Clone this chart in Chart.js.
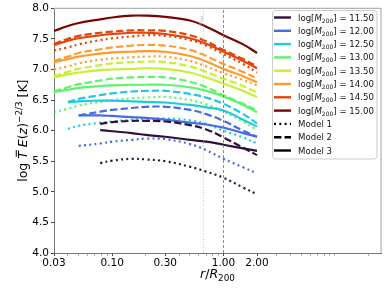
<!DOCTYPE html>
<html><head><meta charset="utf-8">
<script src="https://cdn.jsdelivr.net/npm/chart.js@4/dist/chart.umd.min.js"></script>
<style>html,body{margin:0;padding:0;background:#fff}canvas{display:block}</style>
</head><body>
<canvas id="c" width="389" height="292"></canvas>
<script>
// ---------- data ----------
const radii = [0.03, 0.04, 0.05, 0.078, 0.1, 0.15, 0.2, 0.3, 0.5, 0.7, 1.0, 1.5, 2.0];
const massLabels = ['11.50','12.00','12.50','13.00','13.50','14.00','14.50','15.00'];
const massColors = ['#30123b','#466be3','#1fc9dd','#5ef36b','#c7ef34','#fe9b2d','#e3440a','#7a0403'];
const modelNames = ['Model 1','Model 2','Model 3'];
const n = null;
// Model 1 (dotted)
const dotted_1150 = [n,n,n,5.47,5.51,5.54,5.53,5.50,5.41,5.33,5.23,5.07,4.96];
const dotted_1200 = [n,n,5.75,5.79,5.82,5.85,5.87,5.86,5.78,5.68,5.54,5.40,5.30];
const dotted_1250 = [n,6.03,6.08,6.13,6.15,6.18,6.19,6.20,6.17,6.11,6.00,5.89,5.79];
const dotted_1300 = [6.30,6.36,6.41,6.47,6.50,6.53,6.54,6.55,6.50,6.43,6.31,6.15,6.01];
const dotted_1400 = [7.00,7.05,7.10,7.16,7.18,7.20,7.21,7.21,7.14,7.05,6.94,6.83,6.74];
const dotted_1450 = [7.31,7.36,7.41,7.48,7.51,7.54,7.56,7.55,7.48,7.39,7.25,7.09,6.95];
// Model 2 (dashed)
const dashed_1150 = [n,n,n,6.11,6.14,6.16,6.16,6.15,6.09,6.02,5.89,5.72,5.60];
const dashed_1200 = [n,n,6.25,6.31,6.34,6.37,6.39,6.39,6.34,6.27,6.16,6.00,5.90];
const dashed_1250 = [n,6.47,6.52,6.58,6.61,6.64,6.65,6.65,6.60,6.54,6.44,6.27,6.12];
const dashed_1300 = [6.64,6.71,6.76,6.82,6.85,6.87,6.88,6.87,6.80,6.71,6.58,6.44,6.33];
const dashed_1350 = [6.89,6.96,7.01,7.07,7.10,7.12,7.13,7.12,7.05,6.96,6.85,6.73,6.62];
const dashed_1400 = [7.14,7.21,7.27,7.33,7.36,7.39,7.40,7.39,7.32,7.22,7.09,6.96,6.85];
const dashed_1450 = [7.42,7.50,7.55,7.60,7.62,7.64,7.64,7.63,7.56,7.46,7.32,7.17,7.05];
// Model 3 (solid)
const solid_1150 = [n,n,n,6.01,5.99,5.96,5.93,5.90,5.85,5.82,5.77,5.71,5.67];
const solid_1200 = [n,n,6.25,6.25,6.24,6.22,6.21,6.18,6.13,6.10,6.05,5.96,5.90];
const solid_1250 = [n,6.46,6.48,6.49,6.49,6.48,6.47,6.46,6.42,6.38,6.33,6.18,6.07];
const solid_1300 = [6.63,6.67,6.70,6.73,6.74,6.75,6.75,6.75,6.71,6.65,6.56,6.42,6.30];
const solid_1350 = [6.87,6.92,6.95,6.99,7.00,7.01,7.02,7.01,6.95,6.87,6.77,6.65,6.55];
const solid_1400 = [7.12,7.17,7.21,7.26,7.28,7.29,7.30,7.29,7.22,7.13,7.01,6.89,6.79];
const solid_1450 = [7.40,7.47,7.51,7.56,7.58,7.60,7.60,7.58,7.51,7.42,7.29,7.14,7.02];
const solid_1500 = [7.63,7.71,7.76,7.82,7.85,7.88,7.88,7.86,7.80,7.70,7.56,7.41,7.27];

const rR500 = 0.66;   // R500/R200 marker
const rR200 = 1.0;
const xMajorTicks = [0.03, 0.1, 0.3, 1, 2];
const xTickLabels = ['0.03','0.10','0.30','1.00','2.00'];
const xMinorTicks = [0.04,0.05,0.06,0.07,0.08,0.09,0.2,0.4,0.5,0.6,0.7,0.8,0.9,3,4,5,6,7,8,9,10,20];
const yTicks = [4.0,4.5,5.0,5.5,6.0,6.5,7.0,7.5,8.0];

// ---------- build ----------
const DOT = [2, 3.3], DASH = [7.4, 3.2];
function pts(arr){ const o=[]; arr.forEach((v,i)=>{ if(v!==null) o.push({x:radii[i], y:v}); }); return o; }
function ds(arr, mi, dash){
  return {data: pts(arr), borderColor: massColors[mi], borderWidth: 2.2, borderDash: dash,
    pointRadius: 0, fill:false, tension:0.4, borderCapStyle:'butt'};
}
const datasets = [
  {data:[{x:rR500,y:4},{x:rR500,y:8}], borderColor:'#bdbdbd', borderWidth:0.9, borderDash:[1,1.6], pointRadius:0},
  {data:[{x:rR200,y:4},{x:rR200,y:8}], borderColor:'#808080', borderWidth:0.9, borderDash:[3,2], pointRadius:0},
  ds(dotted_1150,0,DOT), ds(dashed_1150,0,DASH), ds(solid_1150,0,[]),
  ds(dotted_1200,1,DOT), ds(dashed_1200,1,DASH), ds(solid_1200,1,[]),
  ds(dotted_1250,2,DOT), ds(dashed_1250,2,DASH), ds(solid_1250,2,[]),
  ds(dotted_1300,3,DOT), ds(dashed_1300,3,DASH), ds(solid_1300,3,[]),
  ds(dashed_1350,4,DASH), ds(solid_1350,4,[]),
  ds(dotted_1400,5,DOT), ds(dashed_1400,5,DASH), ds(solid_1400,5,[]),
  ds(dotted_1450,6,DOT), ds(dashed_1450,6,DASH), ds(solid_1450,6,[]),
  ds(solid_1500,7,[])
];

const FONT = '"DejaVu Sans", "Liberation Sans", sans-serif';
function rich(ctx, parts, x, y, align){
  let w = 0;
  parts.forEach(p=>{ ctx.font = (p.it?'italic ':'') + p.s + 'px ' + FONT; p.w = ctx.measureText(p.t).width; w += p.w; });
  let cx = align==='center' ? x - w/2 : x;
  parts.forEach(p=>{
    ctx.font = (p.it?'italic ':'') + p.s + 'px ' + FONT;
    ctx.fillText(p.t, cx, y + (p.dy||0));
    if (p.bar){ ctx.save(); ctx.lineWidth=1; ctx.strokeStyle=ctx.fillStyle; ctx.beginPath();
      ctx.moveTo(cx+2, y - p.s*0.86); ctx.lineTo(cx+p.w+1, y - p.s*0.86); ctx.stroke(); ctx.restore(); }
    cx += p.w;
  });
}

const decor = {
  id:'decor',
  afterDraw(chart){
    const ctx = chart.ctx, a = chart.chartArea;
    ctx.save();
    ctx.strokeStyle = '#b3b3b3'; ctx.lineWidth = 1.2;
    ctx.beginPath(); ctx.moveTo(a.left, a.top); ctx.lineTo(a.right, a.top); ctx.lineTo(a.right, a.bottom); ctx.stroke();
    ctx.fillStyle = '#000'; ctx.textBaseline = 'alphabetic';
    rich(ctx, [{t:'r',s:12.5,it:true},{t:'/',s:12.5},{t:'R',s:12.5,it:true},{t:'200',s:8.8,dy:3}], (a.left+a.right)/2, 278, 'center');
    ctx.save(); ctx.translate(27, (a.top+a.bottom)/2); ctx.rotate(-Math.PI/2);
    rich(ctx, [{t:'log ',s:12.5},{t:'T',s:12.5,it:true,bar:true},{t:' ',s:12.5},{t:'E',s:12.5,it:true},{t:'(',s:12.5},{t:'z',s:12.5,it:true},{t:')',s:12.5},{t:'\u22122/3',s:8.8,dy:-5},{t:' [K]',s:12.5}], 0, 0, 'center');
    ctx.restore();
    const xs = chart.scales.x;
    ctx.save(); ctx.translate(xs.getPixelForValue(rR500)-1.5, 25); ctx.rotate(-Math.PI/2);
    ctx.fillStyle = '#a8a8a8'; rich(ctx, [{t:'R',s:4.2},{t:'500',s:3.2,dy:1}], 0, 0, 'left');
    ctx.restore();
    const lx = 272.5, ly = 10.5, lw = 104.5, lh = 148.5;
    ctx.fillStyle = 'rgba(255,255,255,0.85)'; ctx.strokeStyle = '#cccccc'; ctx.lineWidth = 1;
    ctx.beginPath(); ctx.roundRect(lx, ly, lw, lh, 3); ctx.fill(); ctx.stroke();
    const step = 13.3;
    for (let i=0;i<11;i++){
      const yy = 17.5 + i*step;
      ctx.beginPath(); ctx.lineWidth = 2.4;
      let col, dash=[];
      if (i<8){ col = massColors[i]; } else { col = '#000'; dash = i===8?DOT:(i===9?DASH:[]); }
      ctx.strokeStyle = col; ctx.setLineDash(dash);
      ctx.moveTo(274, yy); ctx.lineTo(291, yy); ctx.stroke(); ctx.setLineDash([]);
      ctx.fillStyle = '#111';
      if (i<8) rich(ctx, [{t:'log[',s:8.6},{t:'M',s:8.6,it:true},{t:'200',s:6,dy:2},{t:'] = '+massLabels[i],s:8.6}], 298, yy+3, 'left');
      else rich(ctx, [{t:modelNames[i-8],s:8.6}], 298, yy+3, 'left');
    }
    ctx.restore();
  }
};

new Chart(document.getElementById('c'), {
  type:'line',
  data:{datasets},
  plugins:[decor],
  options:{
    responsive:false, animation:false, devicePixelRatio:1,
    layout:{padding:{top:6, right:8, left:0, bottom:0}},
    plugins:{legend:{display:false}, tooltip:{enabled:false}},
    scales:{
      x:{type:'logarithmic', min:0.03, max:26,
        afterBuildTicks(s){ s.ticks = xMajorTicks.concat(xMinorTicks).sort((p,q)=>p-q).map(v=>({value:v, major: xMajorTicks.includes(v)})); },
        afterFit(s){ s.height = 39; },
        ticks:{autoSkip:false, maxRotation:0, padding:1, color:'#000', font:{family:FONT, size:10.5},
          callback(v){ const i = xMajorTicks.indexOf(v); return i>=0 ? xTickLabels[i] : ''; }},
        grid:{drawOnChartArea:false, drawTicks:true, tickLength:3,
          tickColor(c){ return xMajorTicks.includes(c.tick.value)?'#444':'#777'; },
          tickWidth(c){ return xMajorTicks.includes(c.tick.value)?1:0.6; }},
        border:{display:true, color:'#777', width:1}},
      y:{type:'linear', min:4, max:8,
        afterBuildTicks(s){ s.ticks = yTicks.map(v=>({value:v})); },
        afterFit(s){ s.width = 54; },
        ticks:{padding:2, color:'#000', font:{family:FONT, size:10.5}, callback(v){ return v.toFixed(1); }},
        grid:{drawOnChartArea:false, drawTicks:true, tickLength:3, tickColor:'#444'},
        border:{display:true, color:'#777', width:1}}
    }
  }
});
</script>
</body></html>
